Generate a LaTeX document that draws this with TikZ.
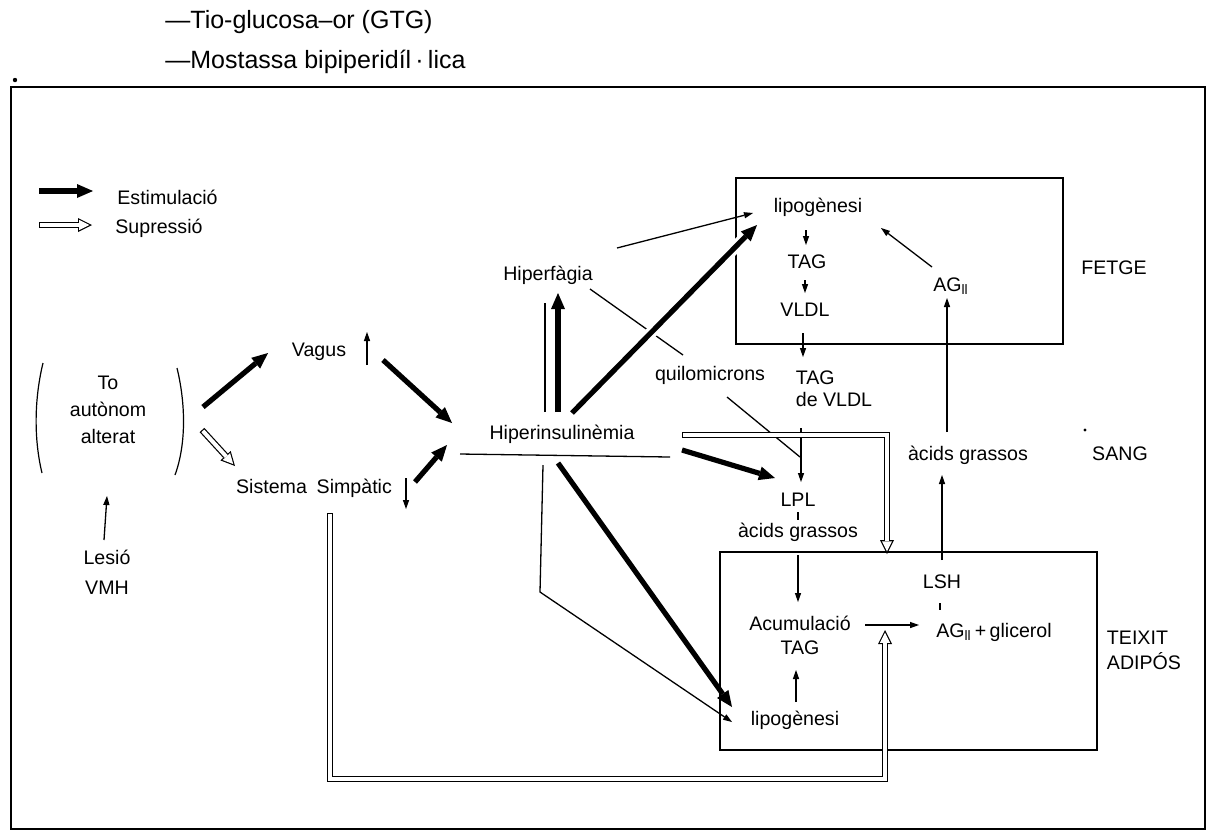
\documentclass[tikz,border=0pt]{standalone}
\usepackage{fontspec}
\setmainfont{Liberation Sans}
\usetikzlibrary{arrows.meta,calc}
\tikzset{
    lbl/.style   = {font=\fontsize{9.8}{12}\selectfont, inner sep=1pt, align=center},
    hdr/.style   = {font=\fontsize{12.5}{15}\selectfont},
    organ/.style = {draw, line width=0.9pt, inner sep=0pt},
    stim/.style  = {draw, line width=2.6pt,
        -{Triangle[length=8pt, width=7pt, line width=0pt]}},
    fine/.style  = {draw, line width=0.65pt,
        -{Triangle[length=4.5pt, width=3.2pt, line width=0pt]}},
    plain/.style = {draw, line width=0.65pt},
    supr/.style  = {
        preaction={draw=black, line width=3.2pt, shorten <=0pt, shorten >=0pt,
            -{Triangle[length=7pt, width=7pt, line width=0pt]}},
        draw=white, line width=2pt, shorten <=0.6pt, shorten >=1.34pt,
        -{Triangle[length=5.06pt, width=5.06pt, line width=0pt]}}
}
\begin{document}
\begin{tikzpicture}[x=0.5pt, y=-0.5pt]
  \useasboundingbox (0,0) rectangle (1209,832);

  \node [lbl, hdr, anchor=west] (gtg) at (163,22) {—Tio-glucosa–or (GTG)};
  \node [lbl, hdr, anchor=west] (bip) at (163,62) {—Mostassa bipiperidíl\,·\,lica};
  \fill (15,80) circle (1.1pt);
  \draw [line width=1.3pt] (11,87) rectangle (1205,829);

  % llegenda
  \node [lbl, anchor=west] (estim) at (115,197) {Estimulació};
  \node [lbl, anchor=west] (suppr) at (113,228) {Supressió};
  \draw [stim] ($(estim.west)+(-76,-6)$) -- ($(estim.west)+(-22,-6)$);
  \draw [supr] ($(suppr.west)+(-74,-3)$) -- ($(suppr.west)+(-21,-3)$);

  \node [lbl] (to) at (108,410) {To\\[1.5pt]autònom\\[1.5pt]alterat};
  \draw [line width=0.6pt] ($(to)+(-65,-47)$) .. controls ($(to)+(-74,-10)$)
    and ($(to)+(-74,30)$) .. ($(to)+(-66,63)$);
  \draw [line width=0.6pt] ($(to)+(69,-42)$) .. controls ($(to)+(78,-5)$)
    and ($(to)+(78,35)$) .. ($(to)+(67,65)$);
  \node [lbl] (lesio) at (107,572) {Lesió\\[3pt]VMH};
  \node [lbl] (vagus) at (319,352) {Vagus};
  \node [lbl] (simp) at (314,488) {Sistema\enspace Simpàtic};
  \node [lbl] (hiperf) at (548,275) {Hiperfàgia};
  \node [lbl] (hiperi) at (562,434) {Hiperinsulinèmia};
  \node [lbl] (quilo) at (710,375) {quilomicrons};

  \node [organ, minimum width=163.5pt, minimum height=83pt] (fbox) at (899.5,261) {};
  \node [lbl] (lipoF) at (818,207) {lipogènesi};
  \node [lbl] (tagF) at (807,262) {TAG};
  \node [lbl] (vldl) at (805,310) {VLDL};
  \node [lbl] (agF) at (951,286) {AG\textsubscript{ll}};
  \node [lbl] (fetge) at (1114,268) {FETGE};

  \node [lbl, align=left] (tagV) at (834,389) {TAG\\[-1pt]de VLDL};
  \node [lbl] (acgS) at (968,455) {àcids grassos};
  \node [lbl] (sang) at (1120,454) {SANG};
  \fill (1085,430) circle (0.8pt);
  \node [lbl] (lpl) at (798,500) {LPL};
  \node [lbl] (acgL) at (798,532) {àcids grassos};

  \node [organ, minimum width=188.5pt, minimum height=99pt] (tbox) at (908.5,651) {};
  \node [lbl] (lsh) at (942,582) {LSH};
  \node [lbl] (agG) at (994,632) {AG\textsubscript{ll}\,+\,glicerol};
  \node [lbl] (acum) at (800,635) {Acumulació\\TAG};
  \node [lbl] (lipoT) at (795,720) {lipogènesi};
  \node [lbl, align=left] (teixit) at (1144,650) {TEIXIT\\[0.5pt]ADIPÓS};

  \draw [fine] ($(lesio)+(-3,-32)$) -- ($(to)+(-1,86)$);
  \draw [stim] ($(to)+(95,-3)$) -- ($(vagus)+(-51,1)$);
  \draw [supr] ($(to)+(94,20)$) -- ($(simp)+(-79,-22)$);
  \draw [fine] ($(vagus)+(48,13)$) -- ($(vagus)+(48,-20)$);
  \draw [fine] ($(simp)+(92,-10)$) -- ($(simp)+(92,21)$);
  \draw [stim] ($(vagus)+(64,8)$) -- ($(hiperi)+(-110,-11)$);
  \draw [stim] ($(simp)+(101,-6)$) -- ($(hiperi)+(-115,11)$);
  \draw [plain] ($(hiperi)+(-102,20)$) -- ($(hiperi)+(108,23)$);

  \draw [plain] ($(hiperi)+(-17,-22)$) -- ($(hiperf)+(-3,28)$);
  \draw [stim] ($(hiperi)+(-4,-22)$) -- ($(hiperf)+(10,18)$);
  \draw [plain] ($(hiperf)+(42,14)$) -- ($(quilo)+(-27,-20)$);
  \draw [stim, preaction={draw=white, line width=6pt, arrows=-}]
    ($(hiperi)+(10,-21)$) -- ($(lipoF)+(-61,18)$);
  \draw [fine] ($(hiperf)+(69,-27)$) -- ($(lipoF)+(-65,6)$);

  \draw [fine] ($(lipoF)+(-12,23)$) -- ($(tagF)+(-1,-17)$);
  \draw [fine] ($(tagF)+(-2,18)$) -- ($(vldl)+(0,-17)$);
  \draw [fine] ($(vldl)+(-2,23)$) -- ($(tagV)+(-31,-32)$);
  \draw [fine] ($(agF)+(-19,-19)$) -- ($(lipoF)+(63,21)$);
  \draw [fine] ($(acgS)+(-21,-23)$) -- ($(agF)+(-4,12)$);

  \draw [fine] ($(tagV)+(-33,39)$) -- ($(lpl)+(3,-18)$);
  \draw [plain] ($(quilo)+(17,22)$) -- ($(lpl)+(2,-43)$);
  \draw [supr] ($(hiperi)+(120,1)$) -| ($(tbox.north)+(-21.5,3)$);
  \draw [stim] ($(hiperi)+(120,16)$) -- ($(lpl)+(-23,-22)$);
  \draw [plain] ($(lpl)+(0,12)$) -- ($(acgL)+(0,-12)$);
  \draw [fine] ($(acgL)+(0,23)$) -- ($(acum)+(-2,-33)$);

  \draw [fine] ($(lsh)+(0,-22)$) -- ($(acgS)+(-26,20)$);
  \draw [plain] ($(lsh)+(-2,21)$) -- ($(agG)+(-54,-22)$);
  \draw [fine] ($(acum)+(65,-10)$) -- ($(agG)+(-75,-7)$);
  \draw [fine] ($(lipoT)+(1,-18)$) -- ($(acum)+(-4,35)$);

  \draw [stim] ($(hiperi)+(-4,29)$) -- ($(lipoT)+(-63,-13)$);
  \coordinate (bend) at (540,592);
  \draw [fine] ($(hiperi)+(-19,31)$) -- (bend) -- ($(lipoT)+(-63,2)$);
  \draw [supr] ($(simp)+(16,25)$) |- ($(acum)+(85,144)$) -- ($(acum)+(85,-5)$);
\end{tikzpicture}
\end{document}
